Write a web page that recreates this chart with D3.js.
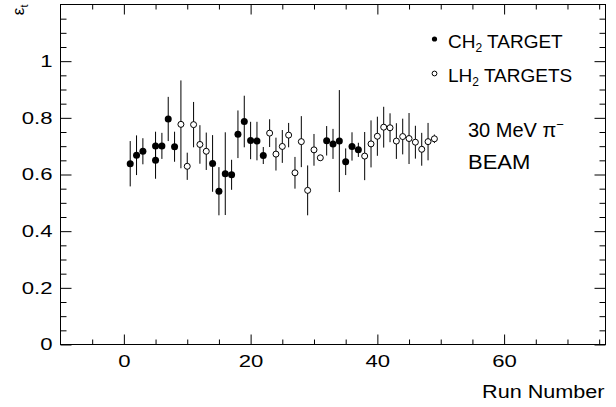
<!DOCTYPE html>
<html>
<head>
<meta charset="utf-8">
<script src="https://cdn.jsdelivr.net/npm/d3@7"></script>
<style>
  body { margin: 0; background: #fff; }
  text { font-family: "Liberation Sans", Arial, sans-serif; fill: #000; }
</style>
</head>
<body>
<div id="chart"></div>
<script>
// --- data ---
// CH2 target runs (filled markers)
const ch2Runs = [1, 2, 3, 5, 5, 6, 7, 8, 14, 15, 16, 17, 18, 19, 20, 21, 22, 32, 33, 34, 35, 36, 37];
const ch2Eff  = [0.638, 0.668, 0.682, 0.650, 0.701, 0.701, 0.796, 0.698, 0.639, 0.541, 0.603, 0.599,
                 0.742, 0.787, 0.720, 0.718, 0.667, 0.719, 0.708, 0.718, 0.645, 0.699, 0.687];
const ch2Err  = [0.080, 0.070, 0.046, 0.065, 0.050, 0.046, 0.078, 0.053, 0.100, 0.085, 0.146, 0.053,
                 0.084, 0.091, 0.066, 0.068, 0.030, 0.052, 0.053, 0.180, 0.047, 0.050, 0.025];

// LH2 target runs (open markers)
const lh2Runs = [9, 10, 11, 12, 13, 23, 24, 25, 26, 27, 28, 29, 30, 31, 38, 39, 40, 41, 42, 43, 44, 45, 46, 47, 48, 49];
const lh2Eff  = [0.777, 0.629, 0.776, 0.706, 0.682, 0.746, 0.672, 0.699, 0.739, 0.606, 0.716, 0.544, 0.687,
                 0.659, 0.665, 0.708, 0.735, 0.767, 0.765, 0.718, 0.734, 0.727, 0.714, 0.689, 0.716, 0.726];
const lh2Err  = [0.155, 0.048, 0.080, 0.068, 0.066, 0.049, 0.058, 0.058, 0.043, 0.056, 0.090, 0.088, 0.056,
                 0.010, 0.085, 0.083, 0.069, 0.072, 0.051, 0.063, 0.063, 0.090, 0.058, 0.058, 0.066, 0.015];

// axis ticks
const xMajor = [0, 20, 40, 60];
const xMinor = d3.range(-5, 76, 5).filter(v => v % 20 !== 0);
const yMajor = [0, 0.2, 0.4, 0.6, 0.8, 1];
const yMinor = d3.range(1, 24).map(i => i * 0.05).filter((v, i) => (i + 1) % 4 !== 0);

const width = 616, height = 407;
const margin = { top: 4.5, right: 10.5, bottom: 62.5, left: 60.5 };
const w = width - margin.left - margin.right;
const h = height - margin.top - margin.bottom;

const svg = d3.select("#chart").append("svg")
    .attr("width", width)
    .attr("height", height);

const g = svg.append("g").attr("transform", `translate(${margin.left},${margin.top})`);

const x = d3.scaleLinear().domain([-10, 76]).range([0, w]);
const y = d3.scaleLinear().domain([0, 1.2]).range([h, 0]);

// the original font is a wide Helvetica, so stretch labels sideways
function stretch(sel, k) {
    sel.each(function () {
        const len = this.getComputedTextLength();
        d3.select(this).attr("textLength", len * k).attr("lengthAdjust", "spacingAndGlyphs");
    });
}

// --- frame + ticks on all four sides, pointing inward ---
function styleAxis(sel) {
    sel.select(".domain").remove();
    sel.selectAll("line").attr("stroke", "#000").attr("stroke-width", 1);
    sel.selectAll("text").style("font-size", "17px").attr("fill", "#000").call(stretch, 1.3);
}

g.append("g").attr("transform", `translate(0,${h})`)
    .call(d3.axisBottom(x).tickValues(xMajor).tickSize(-10).tickPadding(10)).call(styleAxis);
g.append("g").attr("transform", `translate(0,${h})`)
    .call(d3.axisBottom(x).tickValues(xMinor).tickSize(-5).tickFormat("")).call(styleAxis);
g.append("g")
    .call(d3.axisTop(x).tickValues(xMajor).tickSize(-10).tickFormat("")).call(styleAxis);
g.append("g")
    .call(d3.axisTop(x).tickValues(xMinor).tickSize(-5).tickFormat("")).call(styleAxis);

const yFmt = d => (d === 0 ? "0" : d === 1 ? "1" : d3.format(".1f")(d));
g.append("g")
    .call(d3.axisLeft(y).tickValues(yMajor).tickSize(-11).tickPadding(8).tickFormat(yFmt)).call(styleAxis);
g.append("g")
    .call(d3.axisLeft(y).tickValues(yMinor).tickSize(-6).tickFormat("")).call(styleAxis);
g.append("g").attr("transform", `translate(${w},0)`)
    .call(d3.axisRight(y).tickValues(yMajor).tickSize(-11).tickFormat("")).call(styleAxis);
g.append("g").attr("transform", `translate(${w},0)`)
    .call(d3.axisRight(y).tickValues(yMinor).tickSize(-6).tickFormat("")).call(styleAxis);

g.append("rect")
    .attr("width", w).attr("height", h)
    .attr("fill", "none").attr("stroke", "#000").attr("stroke-width", 1);

// --- axis titles ---
g.append("text")
    .attr("x", w - 1).attr("y", h + 53)
    .attr("text-anchor", "end")
    .style("font-size", "18px")
    .text("Run Number")
    .call(stretch, 1.2);

const yTitle = svg.append("text")
    .attr("transform", `translate(24,${margin.top}) rotate(-90)`)
    .attr("text-anchor", "end")
    .style("font-size", "17px");
yTitle.append("tspan").text("ε");
yTitle.append("tspan").attr("dy", 4).style("font-size", "11px").text("t");

// --- data points ---
const ch2 = ch2Runs.map((r, i) => ({ run: r, eff: ch2Eff[i], err: ch2Err[i] }));
const lh2 = lh2Runs.map((r, i) => ({ run: r, eff: lh2Eff[i], err: lh2Err[i] }));

function drawSeries(data, open) {
    const grp = g.append("g");
    grp.selectAll("line").data(data).enter().append("line")
        .attr("x1", d => x(d.run)).attr("x2", d => x(d.run))
        .attr("y1", d => y(d.eff - d.err)).attr("y2", d => y(d.eff + d.err))
        .attr("stroke", "#000").attr("stroke-width", 1);
    grp.selectAll("circle").data(data).enter().append("circle")
        .attr("cx", d => x(d.run)).attr("cy", d => y(d.eff))
        .attr("r", open ? 3 : 3.5)
        .attr("fill", open ? "#fff" : "#000")
        .attr("stroke", "#000").attr("stroke-width", open ? 1 : 0);
}
drawSeries(ch2, false);
drawSeries(lh2, true);

// --- legend ---
const legend = svg.append("g");
legend.append("circle").attr("cx", 434.5).attr("cy", 39).attr("r", 2.6).attr("fill", "#000");
const t1 = legend.append("text").attr("x", 448).attr("y", 47.5).style("font-size", "19px");
t1.append("tspan").text("CH");
t1.append("tspan").attr("dy", 4).style("font-size", "12px").text("2");
t1.append("tspan").attr("dy", -4).text(" TARGET");

legend.append("circle").attr("cx", 434.5).attr("cy", 73.5).attr("r", 2.4)
    .attr("fill", "#fff").attr("stroke", "#000").attr("stroke-width", 1);
const t2 = legend.append("text").attr("x", 448).attr("y", 82).style("font-size", "19px");
t2.append("tspan").text("LH");
t2.append("tspan").attr("dy", 4).style("font-size", "12px").text("2");
t2.append("tspan").attr("dy", -4).text(" TARGETS");

// beam annotation
const b1 = svg.append("text").attr("x", 468).attr("y", 137).style("font-size", "20px");
b1.append("tspan").text("30 MeV π");
b1.append("tspan").attr("dy", -8).style("font-size", "13px").text("−");
svg.append("text").attr("x", 468).attr("y", 168.5).style("font-size", "20px").text("BEAM")
    .call(stretch, 1.1);
</script>
</body>
</html>
